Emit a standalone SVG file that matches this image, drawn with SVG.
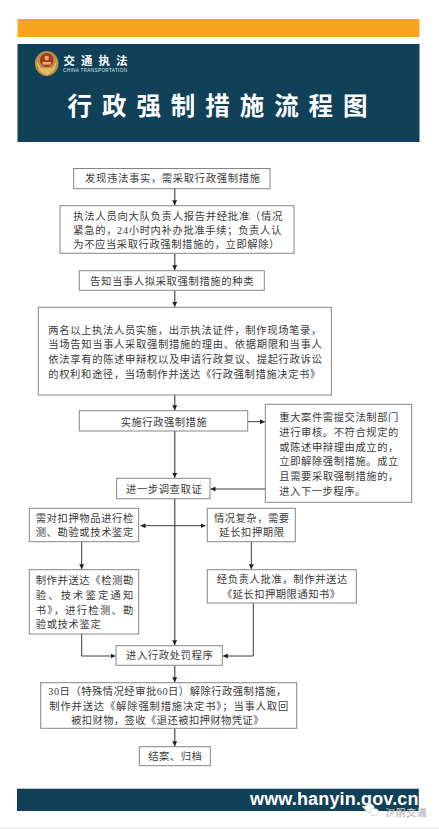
<svg xmlns="http://www.w3.org/2000/svg" width="439" height="829" viewBox="0 0 439 829">
<style>
.b{fill:#fff;stroke:#858585;stroke-width:1}
.t{font-family:"Liberation Serif","Noto Sans CJK SC",serif;font-size:10.3px;fill:#3a3a3a}
.c{fill:none;stroke:#3c3c3c;stroke-width:1}
.m{fill:none;stroke:#6a6a6a;stroke-width:1.5}
.h{font-family:"Noto Sans CJK SC",sans-serif;font-weight:700;fill:#fff}
</style>
<defs>
<marker id="a" viewBox="0 0 6 6" refX="6" refY="3" markerWidth="5" markerHeight="5" markerUnits="userSpaceOnUse" orient="auto-start-reverse"><path d="M0 0L6 3L0 6z" fill="#222"/></marker>
</defs>
<rect width="439" height="829" fill="#fff"/>
<rect y="827" width="439" height="2" fill="#eeeeee"/>
<g id="header">
<rect x="17.5" y="19" width="402" height="18" fill="#f7a51f"/>
<rect x="17.5" y="44" width="402" height="98" fill="#114159"/>
<g id="emblem">
<ellipse cx="46.7" cy="63.5" rx="11.8" ry="12.5" fill="#b98f45"/>
<path d="M36.5 60Q37 72 46.7 75.5Q56.4 72 56.9 60L52.5 68H40.9z" fill="#e0bb62"/>
<ellipse cx="46.7" cy="60" rx="6.8" ry="7" fill="#a8372c"/>
<circle cx="46.7" cy="58" r="2.2" fill="#e2b64f"/>
<rect x="42.5" y="62" width="8.4" height="2.6" fill="#e2b64f"/>
</g>
<text class="h" x="63.5" y="65" font-size="11.5" textLength="64" lengthAdjust="spacing">交通执法</text>
<text x="63" y="72" font-family="'Liberation Sans',sans-serif" font-size="4.6" fill="#dfe6ea" textLength="64" lengthAdjust="spacing">CHINA TRANSPORTATION</text>
<text class="h" x="67.5" y="114.5" font-size="24.5" textLength="300" lengthAdjust="spacing">行政强制措施流程图</text>
</g>
<g id="connectors">
<path class="m" d="M174.7 188.7V205.2" marker-end="url(#a)"/>
<path class="m" d="M174.7 253.3V270.2" marker-end="url(#a)"/>
<path class="m" d="M174.7 290.3V306.8" marker-end="url(#a)"/>
<path class="m" d="M174.7 395V410.2" marker-end="url(#a)"/>
<path class="m" d="M174.7 431V477.8" marker-end="url(#a)"/>
<path class="m" d="M174.7 498.7V645.2" marker-end="url(#a)"/>
<path class="m" d="M174.7 665.3V682.2" marker-end="url(#a)"/>
<path class="m" d="M174.7 728.3V746.2" marker-end="url(#a)"/>
<path class="c" d="M247.7 421.7H265" marker-end="url(#a)"/>
<path class="c" d="M265.3 489H210.5" marker-end="url(#a)"/>
<path class="c" d="M140.5 525.7H205.5" marker-start="url(#a)" marker-end="url(#a)"/>
<path class="c" d="M81.7 541.7V569.2" marker-end="url(#a)"/>
<path class="c" d="M251.3 541.7V569.2" marker-end="url(#a)"/>
<path class="c" d="M81.7 634V656H115.5" marker-end="url(#a)"/>
<path class="c" d="M253.3 603V656H222.8" marker-end="url(#a)"/>
</g>
<g id="n1"><rect class="b" x="73.7" y="168.5" width="196.3" height="20.2"/><text class="t" x="85" y="182.4" textLength="175" lengthAdjust="spacing">发现违法事实，需采取行政强制措施</text></g>
<g id="n2"><rect class="b" x="60" y="205.7" width="234" height="47.6"/>
<text class="t" x="73.3" y="219.7" textLength="209" lengthAdjust="spacing">执法人员向大队负责人报告并经批准（情况</text>
<text class="t" x="73.3" y="234" textLength="208" lengthAdjust="spacing">紧急的，24小时内补办批准手续；负责人认</text>
<text class="t" x="73.3" y="248.4" textLength="206" lengthAdjust="spacing">为不应当采取行政强制措施的，立即解除）</text></g>
<g id="n3"><rect class="b" x="79.3" y="270.7" width="185" height="19.6"/><text class="t" x="90" y="285" textLength="163.5" lengthAdjust="spacing">告知当事人拟采取强制措施的种类</text></g>
<g id="n4"><rect class="b" x="38.3" y="307.3" width="293" height="87.7"/>
<text class="t" x="48.3" y="333.7" textLength="273" lengthAdjust="spacing">两名以上执法人员实施，出示执法证件，制作现场笔录，</text>
<text class="t" x="48.3" y="348" textLength="273.5" lengthAdjust="spacing">当场告知当事人采取强制措施的理由、依据期限和当事人</text>
<text class="t" x="48.3" y="362.7" textLength="273.5" lengthAdjust="spacing">依法享有的陈述申辩权以及申请行政复议、提起行政诉讼</text>
<text class="t" x="48.3" y="377.7" textLength="272" lengthAdjust="spacing">的权利和途径，当场制作并送达《行政强制措施决定书》</text></g>
<g id="n5"><rect class="b" x="79.3" y="410.7" width="168.4" height="20.3"/><text class="t" x="120.7" y="426.4" textLength="86" lengthAdjust="spacing">实施行政强制措施</text></g>
<g id="n6"><rect class="b" x="265.3" y="404.3" width="146.4" height="98"/>
<text class="t" x="279.3" y="421.4" textLength="119" lengthAdjust="spacing">重大案件需提交法制部门</text>
<text class="t" x="279.3" y="436" textLength="119" lengthAdjust="spacing">进行审核。不符合规定的</text>
<text class="t" x="279.3" y="450.7" textLength="119" lengthAdjust="spacing">或陈述申辩理由成立的，</text>
<text class="t" x="279.3" y="465.4" textLength="119" lengthAdjust="spacing">立即解除强制措施。成立</text>
<text class="t" x="279.3" y="480" textLength="119" lengthAdjust="spacing">且需要采取强制措施的，</text>
<text class="t" x="279.3" y="494.7" textLength="86" lengthAdjust="spacing">进入下一步程序。</text></g>
<g id="n7"><rect class="b" x="116.7" y="478.3" width="93.3" height="20.4"/><text class="t" x="126" y="492.7" textLength="75.7" lengthAdjust="spacing">进一步调查取证</text></g>
<g id="n8"><rect class="b" x="29.3" y="508.3" width="109.4" height="33.4"/>
<text class="t" x="35.7" y="522" textLength="97.6" lengthAdjust="spacing">需对扣押物品进行检</text>
<text class="t" x="35.7" y="536.4" textLength="97.6" lengthAdjust="spacing">测、勘验或技术鉴定</text></g>
<g id="n9"><rect class="b" x="207.3" y="508.3" width="88" height="33.4"/>
<text class="t" x="214" y="522" textLength="75" lengthAdjust="spacing">情况复杂，需要</text>
<text class="t" x="219.3" y="536.4" textLength="64.7" lengthAdjust="spacing">延长扣押期限</text></g>
<g id="n10"><rect class="b" x="29.3" y="569.7" width="109.4" height="64.3"/>
<text class="t" x="35.7" y="583.7" textLength="97.6" lengthAdjust="spacing">制作并送达《检测勘</text>
<text class="t" x="35.7" y="599.4" textLength="97.6" lengthAdjust="spacing">验、技术鉴定通知</text>
<text class="t" x="35.7" y="613.7" textLength="97.6" lengthAdjust="spacing">书》，进行检测、勘</text>
<text class="t" x="35.7" y="628" textLength="65" lengthAdjust="spacing">验或技术鉴定</text></g>
<g id="n11"><rect class="b" x="207.3" y="569.7" width="149" height="33.3"/>
<text class="t" x="216.7" y="583" textLength="130.6" lengthAdjust="spacing">经负责人批准，制作并送达</text>
<text class="t" x="222" y="597.7" textLength="118" lengthAdjust="spacing">《延长扣押期限通知书》</text></g>
<g id="n12"><rect class="b" x="116" y="645.7" width="106.3" height="19.6"/><text class="t" x="126" y="659.4" textLength="86.7" lengthAdjust="spacing">进入行政处罚程序</text></g>
<g id="n13"><rect class="b" x="40.7" y="682.7" width="256" height="45.6"/>
<text class="t" x="48.3" y="694.7" textLength="238" lengthAdjust="spacing">30日（特殊情况经审批60日）解除行政强制措施，</text>
<text class="t" x="49.3" y="709.7" textLength="239" lengthAdjust="spacing">制作并送达《解除强制措施决定书》；当事人取回</text>
<text class="t" x="71" y="724.4" textLength="192.5" lengthAdjust="spacing">被扣财物，签收《退还被扣押财物凭证》</text></g>
<g id="n14"><rect class="b" x="139.3" y="746.7" width="71" height="19"/><text class="t" x="148.3" y="760" textLength="53.4" lengthAdjust="spacing">结案、归档</text></g>
<g id="footer">
<rect x="17" y="788.7" width="401.8" height="22.3" fill="#114159"/>
<text x="250" y="805" font-family="'Liberation Sans',sans-serif" font-weight="700" font-size="18" fill="#fff" textLength="168.5" lengthAdjust="spacing">www.hanyin.gov.cn</text>
<g id="watermark" fill="#fff" stroke="#9a9a9a" stroke-width=".4">
<ellipse cx="369.5" cy="808" rx="5" ry="4.3"/>
<ellipse cx="374.5" cy="812" rx="4.3" ry="3.6"/>
</g>
<text x="385.5" y="815.5" font-family="'Noto Sans CJK SC',sans-serif" font-size="9.5" fill="#f2f2f2" stroke="#888" stroke-width=".25" textLength="41" lengthAdjust="spacing">汉阴交通</text>
</g>
</svg>
